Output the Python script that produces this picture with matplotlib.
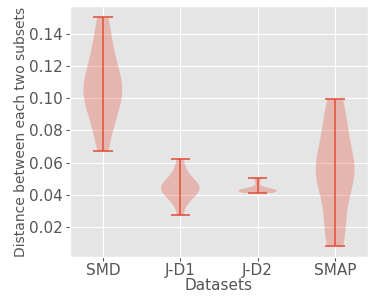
import matplotlib
matplotlib.use('Agg')
import matplotlib.pyplot as plt

plt.style.use('ggplot')

datasets = ['SMD', 'J-D1', 'J-D2', 'SMAP']

# pairwise distances between subsets
smd = [0.067, 0.076, 0.083, 0.089, 0.094, 0.098, 0.101, 0.103, 0.105,
       0.107, 0.110, 0.113, 0.117, 0.122, 0.128, 0.135, 0.142, 0.150]
jd1 = [0.0275, 0.035, 0.038, 0.040, 0.042, 0.043, 0.044, 0.044, 0.045,
       0.046, 0.047, 0.049, 0.052, 0.056, 0.0625]
jd2 = [0.0412, 0.0418, 0.0421, 0.0423, 0.0424, 0.0425, 0.0426, 0.0427,
       0.0429, 0.0432, 0.0436, 0.0485, 0.0503]
smap = [0.0085, 0.011, 0.014, 0.017, 0.021, 0.030, 0.038, 0.043, 0.047,
        0.050, 0.052, 0.054, 0.055, 0.056, 0.058, 0.060, 0.063, 0.067,
        0.072, 0.078, 0.083, 0.088, 0.092, 0.095, 0.0993]

fig, ax = plt.subplots(figsize=(3.74, 2.99), dpi=100)
parts = ax.violinplot([smd, jd1, jd2, smap])
for key in ['cbars', 'cmins', 'cmaxes']:
    parts[key].set_linewidth(1.1)

ax.set_xticks([1, 2, 3, 4])
ax.set_xticklabels(datasets, fontsize=11)
ax.set_yticks([0.02, 0.04, 0.06, 0.08, 0.10, 0.12, 0.14])
ax.set_yticklabels(['0.02', '0.04', '0.06', '0.08', '0.10', '0.12', '0.14'])
ax.tick_params(axis='y', labelsize=11, length=3, pad=2)
ax.tick_params(axis='x', length=3, pad=1)
ax.set_xlabel('Datasets', fontsize=11, labelpad=0)
ax.set_ylabel('Distance between each two subsets', fontsize=10, labelpad=1)

fig.subplots_adjust(left=0.187, right=0.984, top=0.98, bottom=0.14)
fig.savefig('out.png', dpi=100)
